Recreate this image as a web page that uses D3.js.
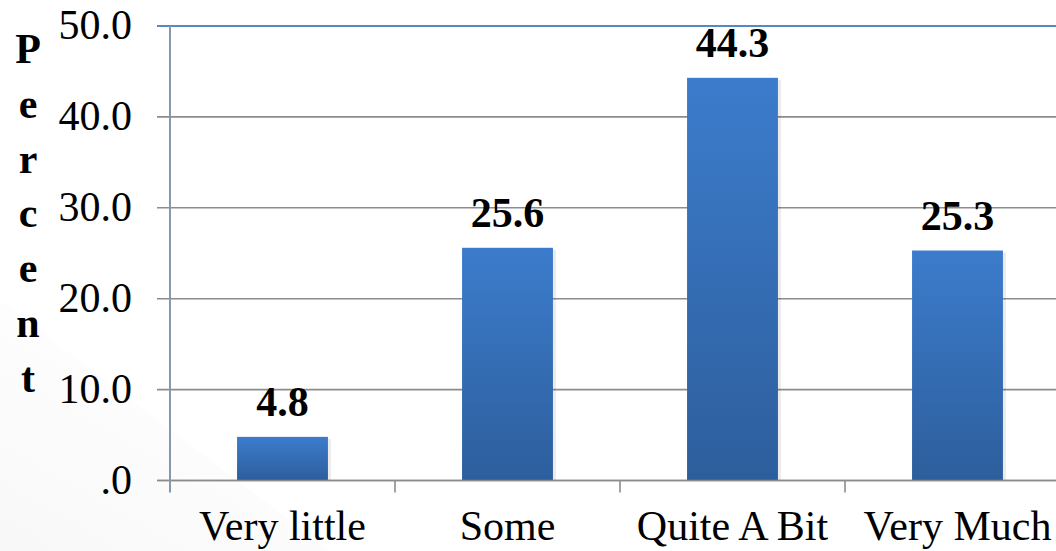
<!DOCTYPE html>
<html>
<head>
<meta charset="utf-8">
<script src="https://cdn.jsdelivr.net/npm/d3@7"></script>
</head>
<body style="margin:0">
<svg id="chart" width="1056" height="551"></svg>
<script>
// Share of respondents per answer category
const categories = ["Very little", "Some", "Quite A Bit", "Very Much"];
const percents = [4.8, 25.6, 44.3, 25.3];
const yTicks = [0, 10, 20, 30, 40, 50];
const yTickLabels = [".0", "10.0", "20.0", "30.0", "40.0", "50.0"];
const axisTitle = "Percent";

const W = 1056, H = 551;
const margin = { left: 170, right: -14, top: 26, bottom: 70.5 };
const FONT = '"Liberation Serif"';
const FS = 42;

const svg = d3.select("#chart").style("display", "block");
const defs = svg.append("defs");

// faint slide-background shading in the lower-left corner
const bg = defs.append("linearGradient").attr("id", "bgShade")
  .attr("x1", "0").attr("y1", "1").attr("x2", "0.6").attr("y2", "0.2");
bg.append("stop").attr("offset", "0").attr("stop-color", "#f0f0f0");
bg.append("stop").attr("offset", "1").attr("stop-color", "#ffffff");
svg.append("rect").attr("width", W).attr("height", H).attr("fill", "#fff");
svg.append("path")
  .attr("d", `M0,${H} L0,300 L330,${H} Z`)
  .attr("fill", "url(#bgShade)").attr("opacity", 0.5);

// bar fill: lighter blue at top, deeper at the base
const barGrad = defs.append("linearGradient").attr("id", "barFill")
  .attr("x1", "0").attr("y1", "0").attr("x2", "0").attr("y2", "1");
barGrad.append("stop").attr("offset", "0").attr("stop-color", "#3c7ccc");
barGrad.append("stop").attr("offset", "1").attr("stop-color", "#2d5e9c");

const x = d3.scaleBand()
  .domain(categories)
  .range([margin.left, W - margin.right])
  .paddingInner(0).paddingOuter(0);

const y = d3.scaleLinear()
  .domain([0, 50])
  .range([H - margin.bottom, margin.top]);

const barWidth = x.bandwidth() * 0.404;

// horizontal gridlines (with tick stubs left of the axis)
svg.append("g").selectAll("line")
  .data(yTicks)
  .join("line")
  .attr("x1", margin.left - 13)
  .attr("x2", W + 20)
  .attr("y1", d => y(d))
  .attr("y2", d => y(d))
  .attr("stroke", d => d === 50 ? "#5a86c4" : "#8c8c8c")
  .attr("stroke-width", d => d === 50 ? 2.2 : 1.6);

// soft right-hand shadow beside each bar
svg.append("g").selectAll("rect")
  .data(percents)
  .join("rect")
  .attr("x", (d, i) => x(categories[i]) + (x.bandwidth() + barWidth) / 2)
  .attr("width", 3)
  .attr("y", d => y(d) + 2)
  .attr("height", d => y(0) - y(d) - 2)
  .attr("fill", "#000")
  .attr("opacity", 0.08);

// bars
svg.append("g").selectAll("rect")
  .data(percents)
  .join("rect")
  .attr("x", (d, i) => x(categories[i]) + (x.bandwidth() - barWidth) / 2)
  .attr("width", barWidth)
  .attr("y", d => y(d))
  .attr("height", d => y(0) - y(d))
  .attr("fill", "url(#barFill)");

// baseline redrawn over bar bottoms
svg.append("line")
  .attr("x1", margin.left - 13).attr("x2", W + 20)
  .attr("y1", y(0)).attr("y2", y(0))
  .attr("stroke", "#8c8c8c").attr("stroke-width", 1.6);

// category boundary ticks below the baseline
const bounds = categories.map(c => x(c)).slice(1);
svg.append("g").selectAll("line")
  .data(bounds)
  .join("line")
  .attr("x1", d => d).attr("x2", d => d)
  .attr("y1", y(0)).attr("y2", y(0) + 12)
  .attr("stroke", "#8c8c8c").attr("stroke-width", 1.6);

// vertical value axis
svg.append("line")
  .attr("x1", margin.left).attr("x2", margin.left)
  .attr("y1", y(50)).attr("y2", y(0) + 12)
  .attr("stroke", "#8797ac").attr("stroke-width", 2);

// y tick labels
svg.selectAll("text.ytick")
  .data(yTicks)
  .join("text")
  .attr("class", "ytick")
  .attr("x", margin.left - 38)
  .attr("y", d => y(d) + 13)
  .attr("text-anchor", "end")
  .attr("font-size", FS)
  .style("font-family", d => FONT)
  .text((d, i) => yTickLabels[i]);

// category labels
svg.selectAll("text.xcat")
  .data(categories)
  .join("text")
  .attr("class", "xcat")
  .attr("x", d => x(d) + x.bandwidth() / 2)
  .attr("y", y(0) + 59.5)
  .attr("text-anchor", "middle")
  .attr("font-size", FS)
  .style("font-family", d => FONT)
  .text(d => d);

// value labels above bars
svg.selectAll("text.val")
  .data(percents)
  .join("text")
  .attr("class", "val")
  .attr("x", (d, i) => x(categories[i]) + x.bandwidth() / 2)
  .attr("y", d => y(d) - 21)
  .attr("text-anchor", "middle")
  .attr("font-size", FS)
  .attr("font-weight", "bold")
  .style("font-family", d => FONT)
  .text(d => d.toFixed(1));

// stacked vertical axis title
svg.selectAll("text.title")
  .data(axisTitle.split(""))
  .join("text")
  .attr("class", "title")
  .attr("x", 28)
  .attr("y", (d, i) => 63 + i * 54.8)
  .attr("text-anchor", "middle")
  .attr("font-size", FS)
  .attr("font-weight", "bold")
  .style("font-family", d => FONT)
  .text(d => d);
</script>
</body>
</html>
